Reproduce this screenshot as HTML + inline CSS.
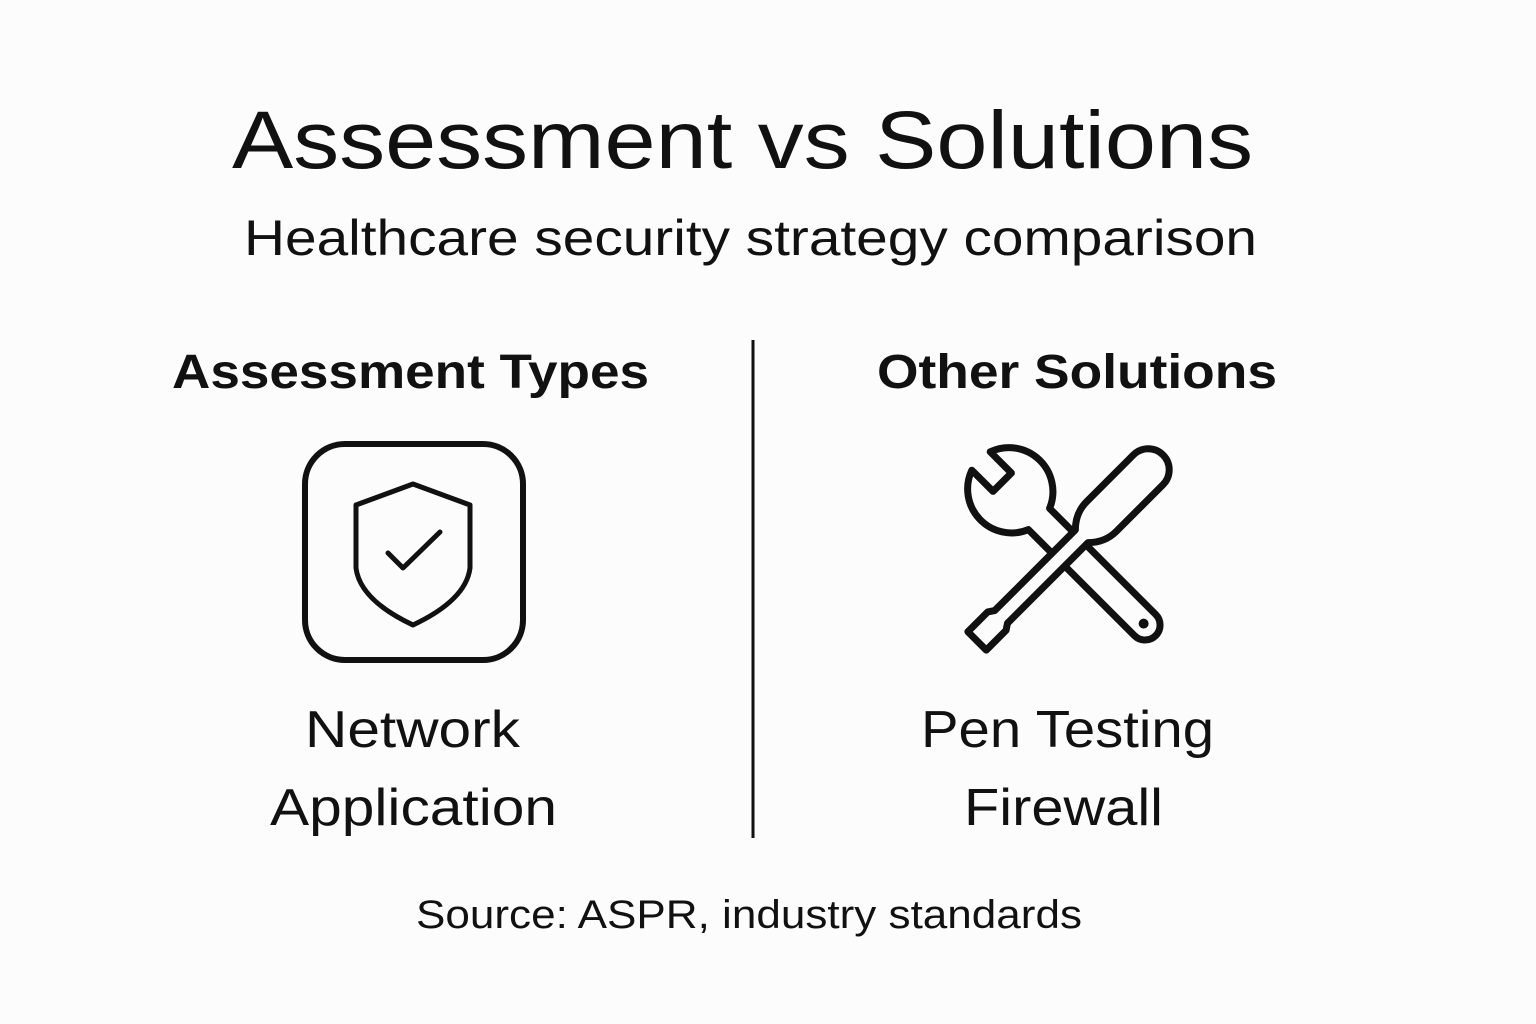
<!DOCTYPE html>
<html><head><meta charset="utf-8"><style>
html,body{margin:0;padding:0;background:#fcfcfc;}
svg{display:block}
text{font-family:"Liberation Sans",sans-serif;fill:#111;}
</style></head><body>
<svg width="1536" height="1024" viewBox="0 0 1536 1024">
<rect width="1536" height="1024" fill="#fcfcfc"/>
<text x="232" y="168" font-size="82" textLength="1021" lengthAdjust="spacingAndGlyphs">Assessment vs Solutions</text>
<text x="244" y="255" font-size="50" textLength="1013" lengthAdjust="spacingAndGlyphs">Healthcare security strategy comparison</text>
<text x="172" y="388" font-size="48" font-weight="bold" textLength="477" lengthAdjust="spacingAndGlyphs">Assessment Types</text>
<text x="877" y="388" font-size="48" font-weight="bold" textLength="400" lengthAdjust="spacingAndGlyphs">Other Solutions</text>
<line x1="753" y1="340" x2="753" y2="838" stroke="#111" stroke-width="3"/>
<rect x="305" y="444" width="218" height="216" rx="40" fill="none" stroke="#111" stroke-width="6"/>
<path d="M413,484 L356,505 L356,568 Q360,600 413,625 Q466,600 470,568 L470,505 Z" fill="none" stroke="#111" stroke-width="5" stroke-linejoin="round"/>
<path d="M388,553 L403,568 L440,532" fill="none" stroke="#111" stroke-width="5" stroke-linecap="round" stroke-linejoin="round"/>
<g transform="translate(1080,560) rotate(45)" fill="#fcfcfc" stroke="#111" stroke-width="7" stroke-linejoin="round">
<path d="M-58,15 L92,15 A15,15 0 0 0 92,-15 L-58,-15 A44,44 0 0 0 -140,-13 L-110,-13 L-110,13 L-140,13 A44,44 0 0 0 -58,15 Z"/>
<circle cx="90" cy="0" r="5" fill="#111" stroke="none"/>
</g>
<g transform="translate(1069,549) rotate(-45)" fill="#fcfcfc" stroke="#111" stroke-width="7" stroke-linejoin="round">
<path d="M-130,-13 L-102,-13 L-96,-9 L18,-9 Q30,-21 46,-21 L112,-21 A21,21 0 0 1 112,21 L46,21 Q30,21 18,9 L-96,9 L-102,13 L-130,13 Z"/>
</g>
<text x="305" y="747" font-size="52" textLength="215" lengthAdjust="spacingAndGlyphs">Network</text>
<text x="270" y="825" font-size="52" textLength="287" lengthAdjust="spacingAndGlyphs">Application</text>
<text x="921" y="747" font-size="52" textLength="293" lengthAdjust="spacingAndGlyphs">Pen Testing</text>
<text x="964" y="825" font-size="52" textLength="199" lengthAdjust="spacingAndGlyphs">Firewall</text>
<text x="416" y="928" font-size="40" textLength="666" lengthAdjust="spacingAndGlyphs">Source: ASPR, industry standards</text>
</svg>
</body></html>
